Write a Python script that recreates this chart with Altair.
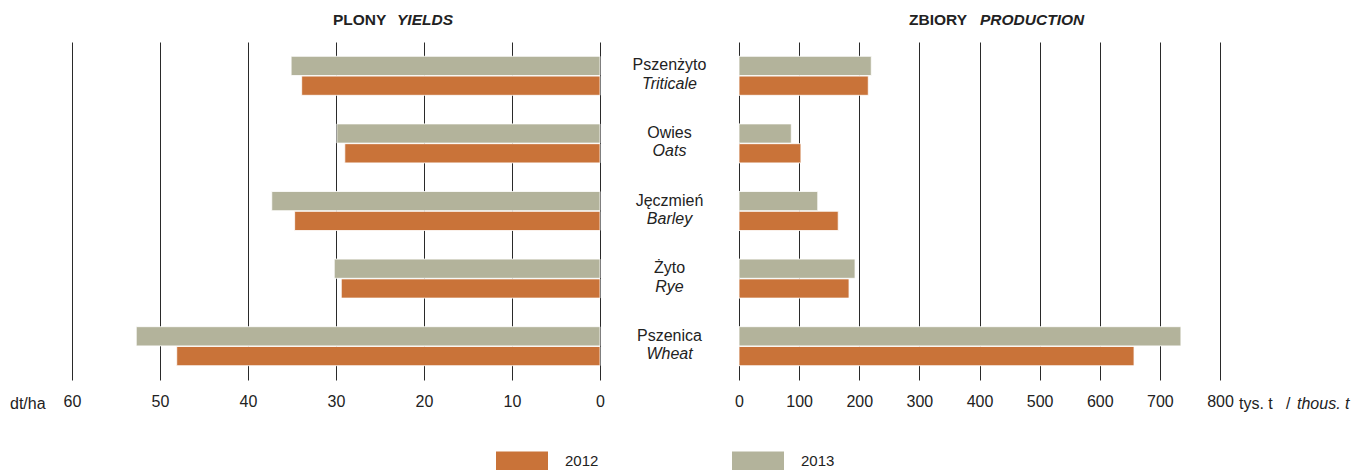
import altair as alt
import pandas as pd

crops_pl = ["Pszenżyto", "Owies", "Jęczmień", "Żyto", "Pszenica"]
crops_en = ["Triticale", "Oats", "Barley", "Rye", "Wheat"]
years = ["2012", "2013"]
yields_2012 = [33.9, 29.0, 34.7, 29.4, 48.1]
yields_2013 = [35.1, 29.9, 37.3, 30.2, 52.7]
prod_2012 = [215, 103, 165, 183, 657]
prod_2013 = [220, 87, 131, 193, 735]
yield_ticks = [0, 10, 20, 30, 40, 50, 60]
prod_ticks = [0, 100, 200, 300, 400, 500, 600, 700, 800]

ORANGE = "#C97339"
GRAY = "#B3B39B"
INK = "#222222"
FONT = "Liberation Sans"
FS = 16

rows = []
for i, c in enumerate(crops_pl):
    rows.append({"crop": c, "crop_en": crops_en[i], "year": "2012",
                 "yield": yields_2012[i], "prod": prod_2012[i]})
    rows.append({"crop": c, "crop_en": crops_en[i], "year": "2013",
                 "yield": yields_2013[i], "prod": prod_2013[i]})
df = pd.DataFrame(rows)
cats = pd.DataFrame({"crop": crops_pl, "crop_en": crops_en})

H = 338
W_L = 528
W_M = 139
W_R = 481

y_enc = alt.Y("crop:N", sort=crops_pl, axis=None,
              scale=alt.Scale(paddingInner=0.423, paddingOuter=0.2115))
yoff = alt.YOffset("year:N", sort=["2013", "2012"],
                   scale=alt.Scale(paddingInner=0.03))
color = alt.Color("year:N", scale=alt.Scale(domain=years, range=[ORANGE, GRAY]),
                  legend=alt.Legend(
                      title=None, orient="none", direction="horizontal",
                      legendX=424, legendY=393,
                      symbolType="M-1,-0.37H1V0.37H-1Z", symbolSize=2704,
                      symbolStrokeWidth=0, symbolOpacity=1,
                      labelFontSize=FS - 1, labelFont=FONT, labelColor=INK,
                      labelOffset=17, columnPadding=133))

def axis(vals):
    return alt.Axis(values=vals, grid=True, gridColor="#2a2a2a", gridWidth=1,
                    domain=False, ticks=False, title=None, labelFontSize=FS,
                    labelFont=FONT, labelColor=INK, labelPadding=13,
                    labelFlush=False)

def txt(s, x, y, bold=False, italic=False, align="left", size=FS):
    return alt.Chart(pd.DataFrame({"t": [s]})).mark_text(
        align=align, baseline="middle", fontSize=size, font=FONT, color=INK,
        fontWeight="bold" if bold else "normal",
        fontStyle="italic" if italic else "normal",
    ).encode(text="t:N", x=alt.value(x), y=alt.value(y))

left_bars = alt.Chart(df).mark_bar(stroke="white", strokeWidth=0.8).encode(
    x=alt.X("yield:Q", scale=alt.Scale(domain=[0, 60], reverse=True, nice=False),
            axis=axis(yield_ticks)),
    y=y_enc, yOffset=yoff, color=color)

left = alt.layer(
    left_bars,
    txt("dt/ha", -62, H + 24),
    txt("PLONY", 261, -22, bold=True, size=15.5),
    txt("YIELDS", 325, -22, bold=True, italic=True, size=15.5),
).properties(width=W_L, height=H)

mid = alt.layer(
    alt.Chart(cats).mark_text(fontSize=FS, font=FONT, color=INK, dy=-10.5,
                              baseline="middle").encode(
        y=alt.Y("crop:N", sort=crops_pl, axis=None,
                scale=alt.Scale(paddingInner=0.423, paddingOuter=0.2115)),
        text="crop:N", x=alt.value(W_M / 2)),
    alt.Chart(cats).mark_text(fontSize=FS, font=FONT, color=INK, dy=8,
                              fontStyle="italic", baseline="middle").encode(
        y=alt.Y("crop:N", sort=crops_pl, axis=None,
                scale=alt.Scale(paddingInner=0.423, paddingOuter=0.2115)),
        text="crop_en:N", x=alt.value(W_M / 2)),
).properties(width=W_M, height=H)

right_bars = alt.Chart(df).mark_bar(stroke="white", strokeWidth=0.8).encode(
    x=alt.X("prod:Q", scale=alt.Scale(domain=[0, 800], nice=False),
            axis=axis(prod_ticks)),
    y=y_enc, yOffset=yoff, color=color)

right = alt.layer(
    right_bars,
    txt("ZBIORY", 170, -22, bold=True, size=15.5),
    txt("PRODUCTION", 241, -22, bold=True, italic=True, size=15.5),
    txt("tys. t", 500, H + 24),
    txt("/", 547, H + 24),
    txt("thous. t", 558, H + 24, italic=True),
).properties(width=W_R, height=H)

chart = alt.hconcat(left, mid, right, spacing=0, bounds="flush").resolve_scale(
    x="independent", color="shared"
).configure_view(stroke=None).properties(
    padding={"left": 2, "top": 5, "right": 2, "bottom": 0}
)

chart.save("out.html", embed_options={"renderer": "svg", "actions": False})
